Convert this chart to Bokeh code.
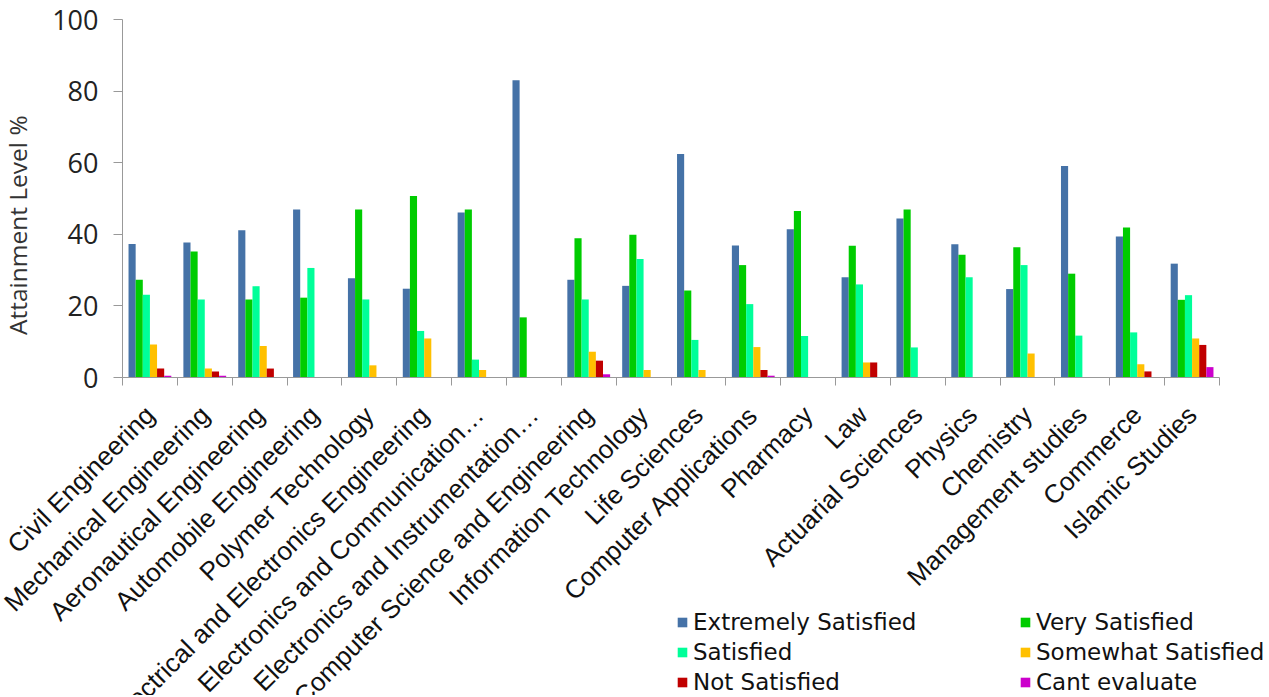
from bokeh.plotting import figure
from bokeh.models import (ColumnDataSource, Range1d, FixedTicker, CustomJSTickFormatter,
                          Legend, LegendItem, Label)
from bokeh.transform import dodge
from bokeh.embed import file_html
from bokeh.resources import INLINE
import math

categories = [
    "Civil Engineering", "Mechanical Engineering", "Aeronautical Engineering",
    "Automobile Engineering", "Polymer Technology", "Electrical and Electronics Engineering",
    "Electronics and Communication…", "Electronics and Instrumentation…",
    "Computer Science and Engineering", "Information Technology", "Life Sciences",
    "Computer Applications", "Pharmacy", "Law", "Actuarial Sciences", "Physics",
    "Chemistry", "Management studies", "Commerce", "Islamic Studies",
]
extremely_satisfied = [37.3, 37.7, 41.1, 46.9, 27.7, 24.8, 46.1, 83.0, 27.3, 25.6,
                       62.4, 36.9, 41.4, 28.0, 44.4, 37.2, 24.7, 59.1, 39.4, 31.8]
very_satisfied = [27.3, 35.2, 21.8, 22.3, 46.9, 50.7, 46.9, 16.8, 38.9, 39.9,
                  24.3, 31.4, 46.5, 36.8, 46.9, 34.3, 36.4, 29.0, 41.9, 21.7]
satisfied = [23.1, 21.8, 25.5, 30.6, 21.8, 13.0, 5.0, 0, 21.8, 33.1,
             10.5, 20.5, 11.6, 26.0, 8.4, 28.0, 31.4, 11.7, 12.6, 23.0]
somewhat_satisfied = [9.2, 2.5, 8.8, 0, 3.4, 10.9, 2.1, 0, 7.2, 2.1,
                      2.1, 8.5, 0, 4.2, 0, 0, 6.7, 0, 3.7, 10.9]
not_satisfied = [2.5, 1.7, 2.5, 0, 0, 0, 0, 0, 4.7, 0,
                 0, 2.1, 0, 4.2, 0, 0, 0, 0, 1.7, 9.1]
cant_evaluate = [0.5, 0.5, 0, 0, 0, 0, 0, 0, 0.9, 0,
                 0, 0.5, 0, 0, 0, 0, 0, 0, 0, 2.9]

series_names = ["Extremely Satisfied", "Very Satisfied", "Satisfied",
                "Somewhat Satisfied", "Not Satisfied", "Cant evaluate"]
series_keys = ["ext", "very", "sat", "some", "nots", "cant"]
series_values = [extremely_satisfied, very_satisfied, satisfied,
                 somewhat_satisfied, not_satisfied, cant_evaluate]
colors = ["#4572A7", "#00CC00", "#00FF99", "#FFC000", "#C00000", "#CC00CC"]
y_ticks = [0, 20, 40, 60, 80, 100]
y_axis_title = "Attainment Level  %"

n = len(categories)
data = {"x": [i + 0.5 for i in range(n)]}
for k, v in zip(series_keys, series_values):
    data[k] = v
source = ColumnDataSource(data)

# ---- layout (pixels on the canvas) ----
W, H = 1265, 695
PX_LEFT, PX_RIGHT = 122, 1219      # value axis / end of category axis
PY_TOP, PY_ZERO = 19, 377          # value 100 / value 0
sx = (PX_RIGHT - PX_LEFT) / n
sy = (PY_ZERO - PY_TOP) / 100.0

def px_to_x(px):
    return (px - PX_LEFT) / sx

def py_to_y(py):
    return (PY_ZERO - py) / sy

# the frame covers the whole canvas; both axes sit at fixed locations
p = figure(width=W, height=H, output_backend="svg", toolbar_location=None,
           x_range=Range1d(px_to_x(0), px_to_x(W)),
           y_range=Range1d(py_to_y(H), py_to_y(0)),
           min_border_left=0, min_border_right=0, min_border_top=0,
           min_border_bottom=0)
p.outline_line_color = None
p.grid.visible = False
p.background_fill_color = "white"

bw = 0.13
renderers = []
for j, (k, c) in enumerate(zip(series_keys, colors)):
    off = (j - 2.5) * bw
    r = p.vbar(x=dodge("x", off, range=p.x_range), top=k, width=bw, bottom=0,
               source=source, fill_color=c, line_color=None)
    renderers.append(r)

# y axis
ya = p.yaxis[0]
ya.fixed_location = 0
ya.bounds = (0, 100)
ya.ticker = FixedTicker(ticks=y_ticks)
ya.axis_line_color = "#999999"
ya.major_tick_line_color = "#999999"
ya.major_tick_out = 9
ya.major_tick_in = 0
ya.minor_tick_line_color = None
ya.major_label_text_font = "Open Sans"
ya.major_label_text_font_size = "27px"
ya.major_label_text_color = "#222222"
ya.major_label_standoff = 15

ytitle = Label(x=px_to_x(17), y=py_to_y(221.5), text=y_axis_title, angle=math.pi / 2,
               text_align="center", text_baseline="alphabetic",
               text_font="Open Sans", text_font_size="24.5px",
               text_color="#333333")
p.add_layout(ytitle)

# x axis
xa = p.xaxis[0]
xa.fixed_location = 0
xa.bounds = (0, n)
xa.ticker = FixedTicker(ticks=data["x"], minor_ticks=list(range(n + 1)))
xa.formatter = CustomJSTickFormatter(args=dict(labels=categories),
                                     code="return labels[Math.floor(tick)];")
xa.axis_line_color = "#999999"
xa.major_tick_line_color = None
xa.major_tick_out = 0
xa.major_tick_in = 0
xa.minor_tick_line_color = "#999999"
xa.minor_tick_out = 8
xa.minor_tick_in = 0
xa.major_label_orientation = math.pi / 4
xa.major_label_text_font = "Liberation Sans"
xa.major_label_text_font_size = "26px"
xa.major_label_text_color = "#111111"
xa.major_label_standoff = 25

row_h, row_gap = 27, 3
legend_top = 621.7 - row_h / 2
legend_h = 3 * row_h + 2 * row_gap
legend = Legend(
    items=[LegendItem(label=nm, renderers=[r]) for nm, r in zip(series_names, renderers)],
    orientation="horizontal", ncols=2,
    location=(676, H - (legend_top + legend_h)),
    padding=0, margin=0, spacing=row_gap,
    glyph_width=12, glyph_height=12, label_standoff=5,
    label_width=323, label_height=row_h,
    label_text_font="DejaVu Sans", label_text_font_size="23px",
    label_text_color="#111111",
    border_line_color=None, background_fill_alpha=0,
)
p.add_layout(legend)

open("out.html", "w").write(file_html(p, INLINE))
